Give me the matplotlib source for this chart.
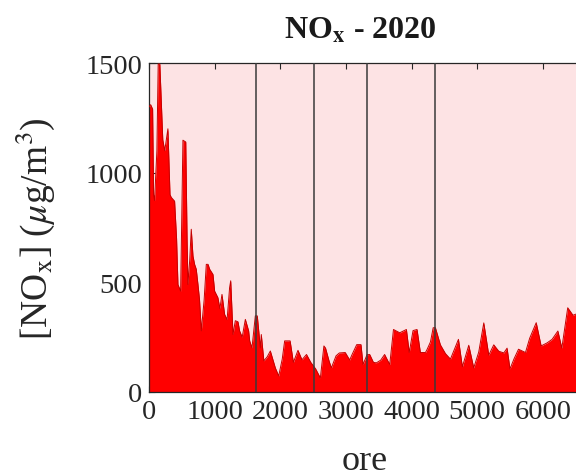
import numpy as np
import matplotlib.pyplot as plt

# =========================
# DATA (upper envelope of hourly NOx)
# =========================
hours = [
    0, 25, 55, 70, 85, 120, 140, 165, 210, 240, 288, 320, 340, 390, 420,
    441, 482, 505, 517, 560, 580, 593, 620, 644, 670, 695, 720, 746, 770,
    797, 840, 873, 900, 924, 975, 1000, 1050, 1080, 1112, 1152, 1190, 1228,
    1245, 1280, 1315, 1356, 1380, 1420, 1468, 1518, 1534, 1569, 1620, 1650,
    1697, 1711, 1750, 1800, 1849, 1925, 1976, 2030, 2067, 2150, 2200, 2270,
    2331, 2400, 2465, 2540, 2611, 2665, 2690, 2745, 2779, 2850, 2900, 2990,
    3058, 3093, 3165, 3230, 3261, 3322, 3363, 3420, 3465, 3530, 3590, 3668,
    3725, 3820, 3922, 3965, 4023, 4084, 4135, 4212, 4237, 4288, 4330, 4364,
    4440, 4517, 4593, 4715, 4775, 4872, 4948, 5024, 5101, 5177, 5253, 5329,
    5406, 5456, 5500, 5560, 5630, 5736, 5800, 5900, 5975, 6066, 6142, 6230,
    6290, 6380, 6460, 6550, 6650,
]
nox = [
    1300, 1310, 1290, 900, 873, 1100, 1495, 1495, 1150, 1100, 1200, 900,
    887, 870, 700, 490, 460, 900, 1148, 1140, 700, 490, 600, 742, 620, 582,
    560, 490, 420, 279, 420, 582, 582, 560, 536, 460, 430, 380, 445, 354,
    330, 476, 507, 262, 325, 320, 279, 250, 331, 279, 233, 201, 347, 347,
    201, 262, 142, 160, 187, 110, 73, 150, 233, 233, 135, 190, 147, 171,
    135, 105, 64, 210, 200, 140, 110, 165, 178, 180, 146, 170, 216, 216,
    125, 170, 171, 135, 133, 145, 171, 125, 285, 270, 285, 180, 280, 285,
    180, 180, 194, 228, 293, 293, 215, 175, 150, 240, 115, 213, 110, 182,
    315, 168, 215, 186, 178, 200, 105, 150, 195, 180, 245, 316, 210, 224,
    240, 278, 200, 384, 350, 360, 330,
]
phase_lines = [1630, 2515, 3315, 4365]
x_ticks = [0, 1000, 2000, 3000, 4000, 5000, 6000]
y_ticks = [0, 500, 1000, 1500]

# =========================
# STYLE
# =========================
plt.rcParams["font.family"] = ["Liberation Serif", "DejaVu Serif"]
plt.rcParams["mathtext.fontset"] = "stix"

W, H = 576, 477
fig = plt.figure(figsize=(W / 100, H / 100), dpi=100)
# axes run past the right edge of the picture (cropped like the source)
ax = fig.add_axes([149 / W, 84 / H, 576.5 / W, 329 / H])
ax.set_facecolor("#fde3e4")

ax.fill_between(hours, 0, nox, color="#ff0000", linewidth=0, zorder=2)
ax.plot(hours, nox, color="#c40000", linewidth=0.7, zorder=3)

for h in phase_lines:
    ax.axvline(h, color="#3a3a3a", linewidth=1.1, zorder=4)

ax.set_xlim(0, 8784)
ax.set_ylim(0, 1500)
ax.set_xticks(x_ticks)
ax.set_yticks(y_ticks)
ax.tick_params(direction="in", top=True, right=True, labelsize=20.5,
               length=4, width=0.8, colors="#262626", pad=5)
for s in ax.spines.values():
    s.set_color("#262626")
    s.set_linewidth(0.9)

fig.text(365 / W, 1 - 470 / H, "ore", ha="center", va="baseline",
         fontsize=26, color="#262626")
fig.text(35 / W, 1 - 229 / H, r"[NO$_\mathrm{x}$] ($\mu$g/m$^3$)",
         ha="center", va="center", rotation=90, fontsize=27, color="#262626")
fig.text(360 / W, 1 - 39 / H, r"NO$_\mathbf{x}$ - 2020", ha="center",
         va="baseline", fontsize=23, fontweight="bold", color="#1a1a1a")

fig.savefig("out.png", dpi=100)
